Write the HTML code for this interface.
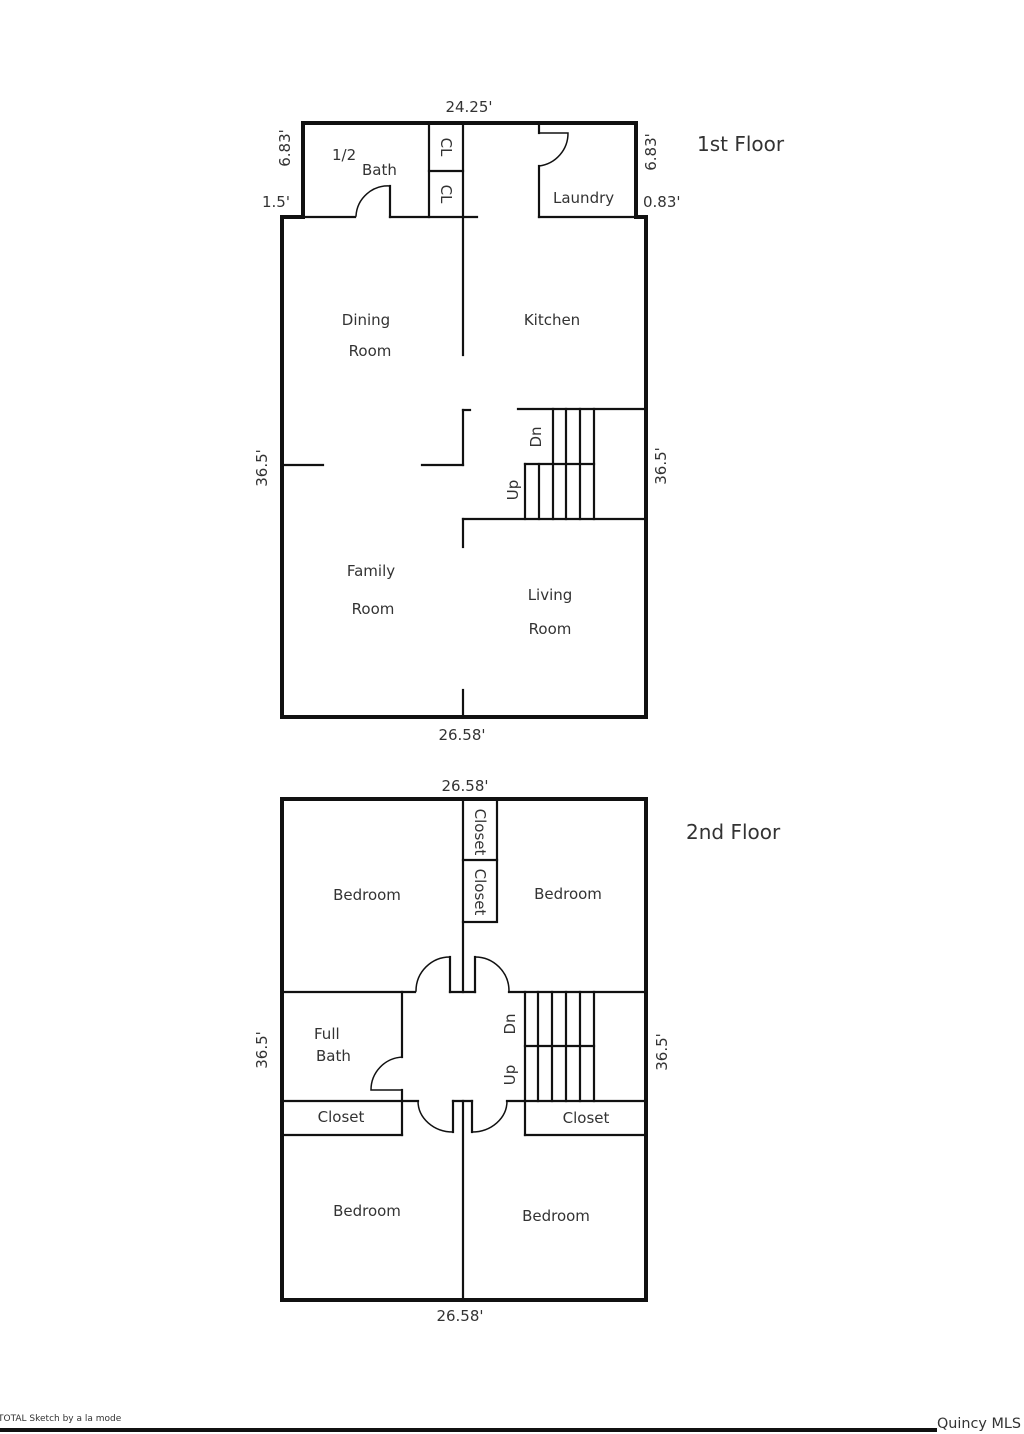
<!DOCTYPE html>
<html><head><meta charset="utf-8"><style>
html,body{margin:0;padding:0;background:#fff;}
svg{display:block;}
text{font-family:"DejaVu Sans","Liberation Sans",sans-serif;fill:#333;}
</style></head><body>
<svg width="1024" height="1434" viewBox="0 0 1024 1434" xmlns="http://www.w3.org/2000/svg">
<g fill="none" stroke="#111" stroke-linecap="square">
<path d="M282,717 L282,217 L303,217 L303,123 L636,123 L636,217 L646,217 L646,717 Z" stroke-width="4"/>
<g stroke-width="2.2">
<line x1="429" y1="123" x2="429" y2="217"/>
<line x1="429" y1="171" x2="463" y2="171"/>
<line x1="463" y1="123" x2="463" y2="355"/>
<line x1="303" y1="217" x2="355" y2="217"/>
<line x1="390" y1="217" x2="477" y2="217"/>
<line x1="390" y1="217" x2="390" y2="186"/>
<path d="M390,186 A32,32 0 0 0 356,216" stroke-width="1.5"/>
<line x1="539" y1="123" x2="539" y2="133"/>
<path d="M539,133 L568,133 A33,33 0 0 1 539,166" stroke-width="1.5"/>
<line x1="539" y1="166" x2="539" y2="217"/>
<line x1="539" y1="217" x2="636" y2="217"/>
<line x1="282" y1="465" x2="323" y2="465"/>
<line x1="422" y1="465" x2="463" y2="465"/>
<line x1="463" y1="465" x2="463" y2="410"/>
<line x1="463" y1="410" x2="470" y2="410"/>
<line x1="518" y1="409" x2="646" y2="409"/>
<line x1="553" y1="409" x2="553" y2="519"/>
<line x1="566" y1="409" x2="566" y2="519"/>
<line x1="580" y1="409" x2="580" y2="519"/>
<line x1="594" y1="409" x2="594" y2="519"/>
<line x1="525" y1="464" x2="594" y2="464"/>
<line x1="525" y1="464" x2="525" y2="519"/>
<line x1="539" y1="464" x2="539" y2="519"/>
<line x1="463" y1="519" x2="646" y2="519"/>
<line x1="463" y1="519" x2="463" y2="547"/>
<line x1="463" y1="690" x2="463" y2="717"/>
</g>
<rect x="282" y="799" width="364" height="501" stroke-width="4"/>
<g stroke-width="2.2">
<rect x="463" y="799" width="34" height="123"/>
<line x1="463" y1="860" x2="497" y2="860"/>
<line x1="463" y1="922" x2="463" y2="992"/>
<line x1="282" y1="992" x2="415" y2="992"/>
<line x1="450" y1="992" x2="475" y2="992"/>
<line x1="509" y1="992" x2="646" y2="992"/>
<line x1="450" y1="957" x2="450" y2="992"/>
<line x1="475" y1="957" x2="475" y2="992"/>
<path d="M450,957 A34,34 0 0 0 416,991" stroke-width="1.5"/>
<path d="M475,957 A34,34 0 0 1 509,991" stroke-width="1.5"/>
<line x1="525" y1="992" x2="525" y2="1101"/>
<line x1="538" y1="992" x2="538" y2="1101"/>
<line x1="552" y1="992" x2="552" y2="1101"/>
<line x1="566" y1="992" x2="566" y2="1101"/>
<line x1="580" y1="992" x2="580" y2="1101"/>
<line x1="594" y1="992" x2="594" y2="1101"/>
<line x1="525" y1="1046" x2="594" y2="1046"/>
<line x1="402" y1="992" x2="402" y2="1057"/>
<line x1="402" y1="1090" x2="402" y2="1135"/>
<path d="M402,1057 A33,33 0 0 0 371,1090 L402,1090" stroke-width="1.5"/>
<line x1="282" y1="1101" x2="418" y2="1101"/>
<line x1="282" y1="1135" x2="402" y2="1135"/>
<line x1="453" y1="1101" x2="472" y2="1101"/>
<line x1="453" y1="1101" x2="453" y2="1132"/>
<line x1="472" y1="1101" x2="472" y2="1132"/>
<path d="M418,1101 A35,31 0 0 0 453,1132" stroke-width="1.5"/>
<path d="M472,1132 A35,31 0 0 0 507,1101" stroke-width="1.5"/>
<line x1="507" y1="1101" x2="646" y2="1101"/>
<line x1="463" y1="1101" x2="463" y2="1300"/>
<line x1="525" y1="1101" x2="525" y2="1135"/>
<line x1="525" y1="1135" x2="646" y2="1135"/>
</g>
<line x1="0" y1="1430" x2="935" y2="1430" stroke-width="4"/>
</g>
<g font-size="15">
<text x="469" y="112" text-anchor="middle">24.25'</text>
<text x="262" y="207">1.5'</text>
<text x="643" y="207">0.83'</text>
<text transform="translate(290,148) rotate(-90)" text-anchor="middle">6.83'</text>
<text transform="translate(656,152) rotate(-90)" text-anchor="middle">6.83'</text>
<text x="332" y="160">1/2</text>
<text x="362" y="175">Bath</text>
<text x="553" y="203">Laundry</text>
<text transform="translate(441,147) rotate(90)" text-anchor="middle">CL</text>
<text transform="translate(441,194) rotate(90)" text-anchor="middle">CL</text>
<text x="366" y="325" text-anchor="middle">Dining</text>
<text x="370" y="356" text-anchor="middle">Room</text>
<text x="552" y="325" text-anchor="middle">Kitchen</text>
<text x="371" y="576" text-anchor="middle">Family</text>
<text x="373" y="614" text-anchor="middle">Room</text>
<text x="550" y="600" text-anchor="middle">Living</text>
<text x="550" y="634" text-anchor="middle">Room</text>
<text transform="translate(541,437) rotate(-90)" text-anchor="middle">Dn</text>
<text transform="translate(518,490) rotate(-90)" text-anchor="middle">Up</text>
<text transform="translate(267,468) rotate(-90)" text-anchor="middle">36.5'</text>
<text transform="translate(666,466) rotate(-90)" text-anchor="middle">36.5'</text>
<text x="462" y="740" text-anchor="middle">26.58'</text>
<text x="465" y="791" text-anchor="middle">26.58'</text>
<text x="460" y="1321" text-anchor="middle">26.58'</text>
<text transform="translate(475,832) rotate(90)" text-anchor="middle">Closet</text>
<text transform="translate(475,892) rotate(90)" text-anchor="middle">Closet</text>
<text x="367" y="900" text-anchor="middle">Bedroom</text>
<text x="568" y="899" text-anchor="middle">Bedroom</text>
<text x="314" y="1039">Full</text>
<text x="316" y="1061">Bath</text>
<text x="341" y="1122" text-anchor="middle">Closet</text>
<text x="586" y="1123" text-anchor="middle">Closet</text>
<text transform="translate(515,1024) rotate(-90)" text-anchor="middle">Dn</text>
<text transform="translate(515,1075) rotate(-90)" text-anchor="middle">Up</text>
<text transform="translate(267,1050) rotate(-90)" text-anchor="middle">36.5'</text>
<text transform="translate(667,1052) rotate(-90)" text-anchor="middle">36.5'</text>
<text x="367" y="1216" text-anchor="middle">Bedroom</text>
<text x="556" y="1221" text-anchor="middle">Bedroom</text>
</g>
<text x="697" y="151" font-size="20">1st Floor</text>
<text x="686" y="839" font-size="20">2nd Floor</text>
<text x="-2" y="1421" font-size="9">TOTAL Sketch by a la mode</text>
<text x="937" y="1428" font-size="14" fill="#555" textLength="84" lengthAdjust="spacingAndGlyphs">Quincy MLS</text>
</svg>
</body></html>
